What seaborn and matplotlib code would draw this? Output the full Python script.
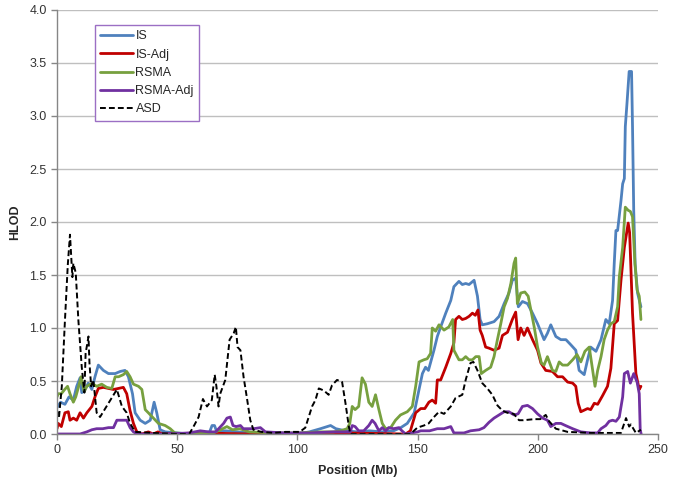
import pandas as pd
import seaborn as sns
import matplotlib.pyplot as plt

# HLOD curves (position in Mb)
is_x = [0, 1.5, 3.3, 5, 6.8, 8.2, 9.6, 10.3, 11.7, 13, 14.5, 15.8, 17.2, 19.3, 21.4, 24.2, 26.3, 28.3,
        29.7, 31.4, 32.5, 34.6, 36.7, 38.8, 40.4, 41.5, 42.9, 45, 50, 55, 60, 63.5, 64.5, 65.5, 66.5,
        70, 75, 80, 90, 100, 105, 109.6, 113.8, 116, 120, 125, 130, 135, 140, 143, 145.7, 148.6,
        150.6, 152, 153.3, 154.5, 156.8, 158.2, 159.6, 161.7, 163.8, 165.1, 167.2, 168.6, 170, 171.4,
        173.5, 174.9, 176, 176.9, 179, 181.8, 183.9, 186, 188, 189.4, 190.8, 191.9, 193.6, 195.7,
        197.8, 199.9, 202.6, 204, 205.4, 207.5, 209.6, 211.7, 213.8, 215.8, 217.2, 219.3, 220.7, 222,
        224.2, 226.3, 228.3, 229.7, 231.1, 231.8, 232.5, 233.2, 234.6, 235.3, 236, 236.4, 237.1, 238,
        239, 239.4, 239.9, 240.5, 241.5, 242.9]
is_y = [0.25, 0.3, 0.28, 0.35, 0.32, 0.45, 0.53, 0.39, 0.42, 0.48, 0.42, 0.54, 0.65, 0.6, 0.57, 0.57, 0.59, 0.6,
        0.54, 0.38, 0.2, 0.13, 0.1, 0.13, 0.3, 0.2, 0.04, 0.02, 0.01, 0.0, 0.01, 0.02, 0.08, 0.08, 0.02,
        0.03, 0.02, 0.01, 0.0, 0.0, 0.02, 0.05, 0.08, 0.05, 0.03, 0.02, 0.03, 0.02, 0.03, 0.06, 0.1, 0.2,
        0.42, 0.57, 0.63, 0.6, 0.79, 0.92, 1.01, 1.14, 1.26, 1.39, 1.44, 1.41, 1.42, 1.41,
        1.45, 1.3, 1.08, 1.03, 1.04, 1.06, 1.11, 1.23, 1.33, 1.45, 1.47, 1.2, 1.25, 1.23,
        1.14, 1.04, 0.89, 0.95, 1.03, 0.92, 0.89, 0.89, 0.84, 0.79, 0.6, 0.56, 0.7, 0.82,
        0.78, 0.89, 1.08, 1.04, 1.26, 1.61, 1.92, 1.92, 2.2, 2.36, 2.41, 2.9, 3.12, 3.42,
        3.42, 2.9, 2.11, 1.6, 1.33, 1.2]

isadj_x = [0, 0.5, 1.8, 3.3, 4.7, 5.4, 6.8, 8.2, 9.6, 11, 12.4, 14.5, 15.8, 17.2, 19.3, 21.4, 23.5, 25.6,
           27.6, 29, 30.4, 31.8, 33.2, 35.3, 38, 40, 42, 44, 60, 80, 100, 120, 145, 147, 149.2, 151.3,
           153, 154.7, 156.1, 157.5, 158.2, 159.6, 161.7, 163.8, 165.1, 165.8, 167.2, 168.6, 170, 171.4,
           172.8, 174, 175.1, 176, 176.9, 178.3, 179.7, 181.8, 183.9, 185.3, 187.4, 189.4, 190.8, 191.8,
           192.9, 194.3, 195.7, 197.8, 199.9, 201.3, 203.3, 206.1, 208.2, 210.3, 212.4, 214.5, 215.8,
           216.8, 217.9, 220.7, 222, 223.5, 224.9, 226.9, 229, 230.4, 231.8, 233.2, 234.6, 236, 237.6,
           238.2, 239.4, 240.8, 242.2, 242.9]
isadj_y = [0.05, 0.1, 0.07, 0.2, 0.21, 0.13, 0.15, 0.13, 0.2, 0.15, 0.2, 0.26, 0.35, 0.43, 0.44, 0.43, 0.42, 0.43,
           0.44, 0.38, 0.22, 0.1, 0.02, 0.0, 0.02, 0.0, 0.02, 0.0, 0.01, 0.0, 0.0, 0.01, 0.0, 0.03, 0.2, 0.24,
           0.24, 0.3, 0.32, 0.29, 0.51, 0.51, 0.63, 0.76, 0.86, 1.08, 1.11, 1.08, 1.09, 1.11,
           1.14, 1.12, 1.17, 0.98, 0.93, 0.82, 0.81, 0.79, 0.81, 0.93, 0.96, 1.08, 1.15, 0.89,
           1.0, 0.93, 1.0, 0.89, 0.79, 0.67, 0.6, 0.59, 0.54, 0.54, 0.49, 0.48, 0.45,
           0.29, 0.21, 0.24, 0.23, 0.29, 0.28, 0.36, 0.45, 0.62, 1.04, 1.07, 1.45, 1.76, 1.99,
           1.9, 1.14, 0.57, 0.42, 0.45]

rsma_x = [0, 0.5, 1.8, 3.2, 4.4, 5.4, 6.8, 7.8, 8.9, 10, 11.3, 12.4, 13.8, 15.1, 16.5, 18.6, 20.7, 22.8,
          24.2, 25.6, 27.6, 29, 30.4, 31.8, 33.9, 35.3, 36.7, 38, 40.1, 42.2, 45, 47.1, 49, 55, 65, 68,
          70.7, 73, 76, 80, 90, 100, 110, 115, 117.9, 120.7, 121.8, 122.8, 124, 125.5, 126.9, 128.3,
          129.7, 131.1, 132.5, 133.9, 135.3, 136.7, 138.8, 140.8, 142.9, 145.7, 147.8, 149.2, 150.6,
          152.6, 154, 155.4, 156.1, 157.5, 158.9, 161, 163, 164.6, 165.1, 165.8, 167.2, 168.6, 170,
          171.4, 172.8, 174.2, 175.6, 176.5, 178.3, 180.4, 181.8, 183.2, 184.6, 186, 187.4, 188.8,
          190.1, 190.8, 191.5, 192.9, 194.6, 196, 197.1, 198.5, 199.9, 201.5, 202.6, 204, 206.1, 207.5,
          208.9, 210.3, 212.4, 214.5, 216.3, 217.9, 219.6, 221.4, 222.8, 223.8, 224.9, 226.3, 227.6,
          229, 230.4, 231.8, 233.2, 233.9, 235.3, 236.4, 237.6, 238.5, 239.4, 240.4, 241.3, 242.2, 242.9]
rsma_y = [0.35, 0.38, 0.38, 0.42, 0.45, 0.38, 0.3, 0.35, 0.44, 0.54, 0.4, 0.45, 0.47, 0.47, 0.45, 0.47, 0.44, 0.43,
          0.54, 0.54, 0.56, 0.59, 0.54, 0.47, 0.45, 0.42, 0.23, 0.2, 0.15, 0.1, 0.08, 0.05, 0.01, 0.0, 0.01, 0.04,
          0.07, 0.04, 0.05, 0.02, 0.01, 0.01, 0.02, 0.02, 0.03, 0.05, 0.1, 0.26, 0.23, 0.26, 0.53, 0.47,
          0.3, 0.26, 0.37, 0.23, 0.1, 0.05, 0.06, 0.13, 0.18, 0.21, 0.26, 0.45, 0.68,
          0.7, 0.71, 0.76, 1.0, 0.97, 1.03, 0.98, 1.01, 1.08, 0.79, 0.76, 0.7, 0.7, 0.73,
          0.7, 0.7, 0.73, 0.73, 0.57, 0.6, 0.63, 0.73, 0.89, 1.04, 1.2, 1.28, 1.42,
          1.61, 1.66, 1.23, 1.33, 1.34, 1.3, 1.17, 1.01, 0.82, 0.67, 0.65, 0.73, 0.6, 0.59,
          0.68, 0.65, 0.65, 0.7, 0.75, 0.68, 0.78, 0.82, 0.6, 0.45, 0.6, 0.73, 0.89,
          0.98, 1.04, 1.06, 1.2, 1.48, 1.76, 2.14, 2.11, 2.1, 2.05, 1.61, 1.36, 1.3, 1.08]

rsmaadj_x = [0, 9.6, 12.4, 14.5, 16.5, 19, 21.4, 23.5, 24.9, 27, 29, 30.4, 31.8, 33.5, 45, 55, 59.6, 63,
             66, 69.3, 70.7, 72.1, 73.2, 74.5, 76.3, 77.5, 81.8, 84.6, 86.7, 95, 105, 115, 122, 122.8,
             124, 125.5, 127.6, 129.7, 131.1, 132.3, 133.9, 135.3, 136.7, 138, 140, 142.2, 143.5, 145,
             150, 151.3, 155, 158.2, 161, 163.8, 165.1, 169.3, 172, 175.6, 177.6, 179.7, 181.8, 183.9,
             186, 188, 190.1, 191.8, 193.6, 195.7, 197.8, 199.9, 202, 204, 205.4, 207.5, 209.6, 211.5,
             214.5, 217.9, 222, 224.9, 226.3, 228.3, 229.7, 231.1, 232.5, 233.9, 235.3, 236, 237.4,
             238.5, 239.9, 241.3, 242.2, 242.6, 243]
rsmaadj_y = [0.0, 0.0, 0.02, 0.04, 0.05, 0.05, 0.06, 0.06, 0.13, 0.13, 0.13, 0.06, 0.02, 0.0, 0.0, 0.01, 0.03, 0.02,
             0.02, 0.1, 0.15, 0.16, 0.08, 0.07, 0.08, 0.05, 0.05, 0.06, 0.02, 0.01, 0.01, 0.02, 0.02, 0.08,
             0.07, 0.03, 0.03, 0.08, 0.13, 0.1, 0.03, 0.06, 0.03, 0.06, 0.05, 0.06, 0.03, 0.0,
             0.02, 0.03, 0.03, 0.05, 0.05, 0.07, 0.01, 0.01, 0.03, 0.04, 0.06, 0.11, 0.15, 0.18,
             0.21, 0.21, 0.18, 0.19, 0.26, 0.27, 0.24, 0.19, 0.15, 0.13, 0.07, 0.1, 0.1, 0.08,
             0.05, 0.02, 0.01, 0.01, 0.05, 0.08, 0.12, 0.13, 0.12, 0.16, 0.35, 0.57, 0.59,
             0.48, 0.57, 0.49, 0.38, 0.04, 0.0]

asd_x = [0, 0.8, 2, 3.3, 4.5, 5.4, 6.4, 6.8, 7.8, 8.9, 10.3, 11.4, 11.9, 13.1, 13.5, 14.2, 15.1, 16.5,
         17.9, 21.4, 24.9, 27, 29, 30.4, 32.5, 40, 50, 55, 56.8, 58.9, 60.7, 62.4, 64.4, 65.6, 66.3,
         67.2, 67.9, 70, 71.8, 73.5, 74.4, 75.1, 76.3, 77.6, 79, 80.4, 81.7, 85, 90, 95, 101, 103.3,
         104.7, 106.1, 107.5, 108.9, 111, 113, 114.4, 116.5, 118.6, 120, 121.4, 122, 147, 149.9, 152.6,
         154.6, 156.8, 158.9, 161, 163.8, 165.8, 168.6, 170, 172, 173.2, 174.9, 176.9, 179, 181.1,
         183.2, 185.3, 187.4, 190, 192.2, 194, 198.5, 201, 203.3, 204.7, 207.5, 212.4, 222, 234.6,
         236.7, 238, 238.7, 240.8, 242.9]
asd_y = [0.22, 0.15, 0.45, 1.07, 1.6, 1.88, 1.48, 1.61, 1.52, 1.07, 0.63, 0.39, 0.76, 0.92, 0.67, 0.45, 0.51, 0.2,
         0.16, 0.29, 0.42, 0.26, 0.2, 0.1, 0.02, 0.01, 0.0, 0.0, 0.07, 0.16, 0.33, 0.26, 0.32, 0.56, 0.45,
         0.26, 0.38, 0.51, 0.89, 0.95, 1.01, 0.82, 0.79, 0.54, 0.34, 0.13, 0.04, 0.02, 0.01, 0.02, 0.02, 0.06,
         0.16, 0.26, 0.32, 0.43, 0.41, 0.37, 0.46, 0.51, 0.49, 0.29, 0.07, 0.0, 0.0, 0.06, 0.08,
         0.1, 0.16, 0.21, 0.19, 0.26, 0.34, 0.37, 0.51, 0.67, 0.68, 0.6, 0.48, 0.43, 0.37,
         0.27, 0.22, 0.2, 0.19, 0.13, 0.13, 0.14, 0.14, 0.18, 0.12, 0.05, 0.02, 0.01, 0.01,
         0.15, 0.07, 0.09, 0.01, 0.04]

series = ['IS', 'IS-Adj', 'RSMA', 'RSMA-Adj', 'ASD']
colors = ['#4F81BD', '#C00000', '#77A03F', '#7030A0', '#000000']

frames = []
for name, xs, ys in zip(series,
                        [is_x, isadj_x, rsma_x, rsmaadj_x, asd_x],
                        [is_y, isadj_y, rsma_y, rsmaadj_y, asd_y]):
    frames.append(pd.DataFrame({'Position': xs, 'HLOD': ys, 'Series': name}))
df = pd.concat(frames, ignore_index=True)

sns.set_style('white')
plt.rcParams['font.family'] = ['Liberation Sans', 'DejaVu Sans']

fig = plt.figure(figsize=(6.85, 4.9), dpi=100)
ax = fig.add_axes([57 / 685, 56 / 490, 601 / 685, 424 / 490])

dashes = {s: '' for s in series}
dashes['ASD'] = (3, 1.6)
sns.lineplot(data=df, x='Position', y='HLOD', hue='Series', style='Series',
             hue_order=series, style_order=series, palette=colors, dashes=dashes,
             sort=False, estimator=None, linewidth=2.0, ax=ax)
# thinner dashed line for ASD (drawn last)
ax.lines[len(series) - 1].set_linewidth(1.4)

ax.set_xlim(0, 250)
ax.set_ylim(0, 4.0)
ax.set_xticks([0, 50, 100, 150, 200, 250])
ax.set_yticks([i * 0.5 for i in range(9)])
ax.set_yticklabels([f'{i * 0.5:.1f}' for i in range(9)])
ax.yaxis.grid(True, color='#BFBFBF', linewidth=1.0)
ax.xaxis.grid(False)
for side in ['top', 'right']:
    ax.spines[side].set_visible(False)
for side in ['left', 'bottom']:
    ax.spines[side].set_color('#868686')
    ax.spines[side].set_linewidth(1.0)
ax.tick_params(axis='both', colors='#868686', labelcolor='#333333', labelsize=9,
               length=4, width=1, direction='out', bottom=True, left=True)
ax.set_xlabel('Position (Mb)', fontsize=9, fontweight='bold', labelpad=6)
ax.set_ylabel('HLOD', fontsize=9, fontweight='bold', labelpad=6)

handles, labels = ax.get_legend_handles_labels()
for h in handles:
    h.set_linewidth(2.0 if h.get_label() != 'ASD' else 1.4)
leg = ax.legend(handles, labels, loc='upper left', bbox_to_anchor=(0.063, 0.965),
                frameon=True, fancybox=False, fontsize=9, handlelength=2.6,
                borderpad=0.45, labelspacing=0.5, handletextpad=0.2, borderaxespad=0)
leg.get_frame().set_edgecolor('#9B6FC4')
leg.get_frame().set_linewidth(1.0)
leg.get_frame().set_facecolor('white')
leg.get_frame().set_alpha(1)

fig.savefig('out.png', dpi=100)
